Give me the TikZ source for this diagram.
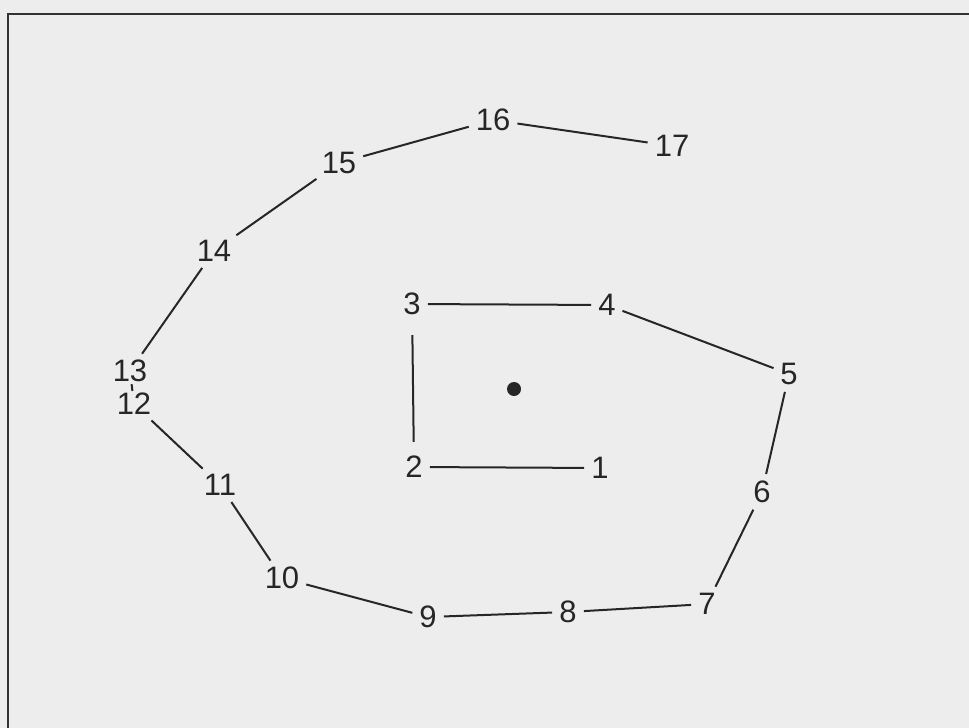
\documentclass[tikz,border=0pt]{standalone}
\usepackage{fontspec}
\setmainfont{Liberation Sans}
\begin{document}
\begin{tikzpicture}[x=1pt,y=-1pt,
  num/.style={inner sep=2pt, font=\fontsize{31}{34}\selectfont, text=black!85},
  link/.style={line width=2pt, black!85, shorten <=5pt, shorten >=5pt}]
\useasboundingbox (0,0) rectangle (969,728);
\fill[black!7] (0,0) rectangle (969,728);
\draw[line width=1.2pt, black!80] (8,728) -- (8,14) -- (969,14);
% nodes
\node[num] (n1) at (600,468) {1};
\node[num] (n2) at (414,467) {2};
\node[num] (n3) at (412,304) {3};
\node[num] (n4) at (607,305) {4};
\node[num] (n5) at (789,374) {5};
\node[num] (n6) at (762,492) {6};
\node[num] (n7) at (707,604) {7};
\node[num] (n8) at (568,612) {8};
\node[num] (n9) at (428,617) {9};
\node[num] (n10) at (282,578) {10};
\node[num] (n11) at (220,485) {11};
\node[num] (n12) at (134,404) {12};
\node[num] (n13) at (130,371) {13};
\node[num] (n14) at (214,251) {14};
\node[num] (n15) at (339,163) {15};
\node[num] (n16) at (493,120) {16};
\node[num] (n17) at (672,146) {17};
\node[circle, fill=black!85, inner sep=0pt, minimum size=14pt] (dot) at (514,389) {};
% connectors
\draw[link] (n3) -- (n4);
\draw[link, shorten <=18pt, shorten >=12pt] (n3) -- (n2);
\draw[link] (n2) -- (n1);
\draw[link] (n4) -- (n5);
\draw[link] (n5) -- (n6);
\draw[link] (n6) -- (n7);
\draw[link] (n7) -- (n8);
\draw[link] (n8) -- (n9);
\draw[link] (n9) -- (n10);
\draw[link] (n10) -- (n11);
\draw[link] (n11) -- (n12);
\draw[link, shorten <=0pt, shorten >=0pt] (n13) -- (n12);
\draw[link] (n13) -- (n14);
\draw[link] (n14) -- (n15);
\draw[link] (n15) -- (n16);
\draw[link] (n16) -- (n17);
\end{tikzpicture}
\end{document}
